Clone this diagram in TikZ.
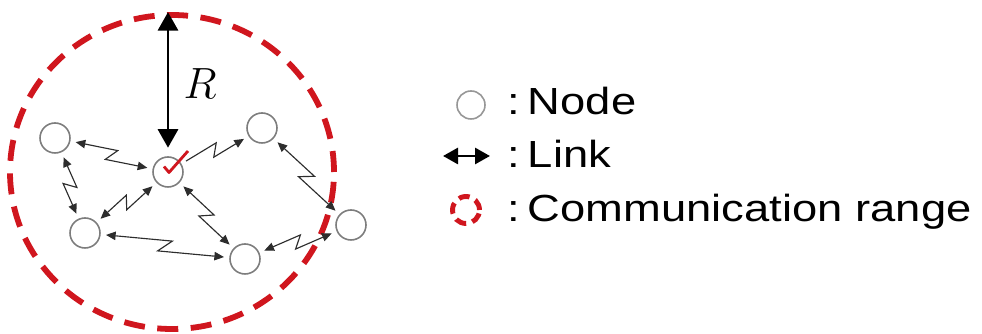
\documentclass[tikz,border=0pt]{standalone}
\usepackage{fontspec}
\usetikzlibrary{arrows.meta, positioning, calc, shapes.geometric}
\newfontfamily\legendfont{Liberation Sans}[FakeStretch=1.2]
\definecolor{rangered}{RGB}{208, 22, 30}
\definecolor{nodegray}{RGB}{125, 125, 125}
\definecolor{linkgray}{RGB}{45, 45, 45}

\begin{document}
\begin{tikzpicture}[
  >={Triangle[length=5.5pt, width=4.8pt]},
  sensor/.style={
    circle, draw=nodegray, fill=white,
    line width=0.9pt, minimum size=0.6cm, inner sep=0pt
  },
  commrange/.style={
    ellipse, draw=rangered, inner sep=0pt,
    line width=3.3pt, dash pattern=on 0.42cm off 0.25cm
  },
  zap/.style={
    draw=linkgray, line width=0.65pt,
    shorten <=3pt, shorten >=3pt,
    to path={-- ($(\tikztostart)!0.54!(\tikztotarget)!0.12cm!90:(\tikztotarget)$)
             -- ($(\tikztostart)!0.46!(\tikztotarget)!0.12cm!-90:(\tikztotarget)$)
             -- (\tikztotarget)}
  },
  bigarrow/.style={
    <->, line width=1.7pt,
    >={Triangle[length=0.37cm, width=0.4cm]}
  },
  legtext/.style={font=\legendfont\fontsize{21.5}{26}\selectfont, inner sep=0pt, anchor=base west}
]
  \useasboundingbox (0,0) rectangle (19.64,6.68);

  \node[commrange, minimum width=6.48cm, minimum height=6.28cm] (cov) at (3.44,3.24) {};

  \node[sensor] (hub) at (3.36,3.24) {};
  \node[sensor] (nw)  at (1.10,3.92) {};
  \node[sensor] (ne)  at (5.24,4.12) {};
  \node[sensor] (sw)  at (1.70,2.02) {};
  \node[sensor] (s)   at (4.90,1.50) {};
  \node[sensor] (e)   at (7.02,2.18) {};

  \draw[rangered, line width=1.6pt, line join=round]
    ($(hub)+(-0.08,0.11)$) -- ($(hub)+(0.02,-0.01)$) -- ($(hub)+(0.40,0.42)$);

  \draw[bigarrow, shorten >=0.17cm] (hub.north |- cov.north) -- (hub.north);
  \node[font=\fontsize{25}{30}\selectfont] (rlbl) at (4.00,5.00) {$R$};

  \draw[zap, <->] (nw) to (hub);
  \draw[zap, <->] (nw) to (sw);
  \draw[zap, <->] (sw) to (hub);
  \draw[zap, <->] (sw) to (s);
  \draw[zap, <->] (hub) to (s);
  \draw[zap, ->]  (hub) to (ne);
  \draw[zap, <->] (ne) to (e);
  \draw[zap, <->] (s) to (e);

  \node[legtext] (nodetxt)  at (10.15,4.38) {:\hspace{0.2em}Node};
  \node[legtext] (linktxt)  at (10.15,3.32) {:\hspace{0.2em}Link};
  \node[legtext] (rangetxt) at (10.15,2.24) {:\hspace{0.2em}Communication range};

  \node[sensor, draw=nodegray!80, minimum size=0.56cm] (legnode) at (9.42,4.58) {};
  \coordinate (linkl) at (8.86,3.56);
  \coordinate (linkr) at (9.80,3.56);
  \draw[<->, line width=1.6pt, >={Triangle[length=0.3cm, width=0.32cm]}] (linkl) -- (linkr);
  \node[commrange, minimum size=0.54cm, line width=2.8pt, dash pattern=on 0.22cm off 0.13cm] (legrange) at (9.32,2.48) {};
\end{tikzpicture}
\end{document}
